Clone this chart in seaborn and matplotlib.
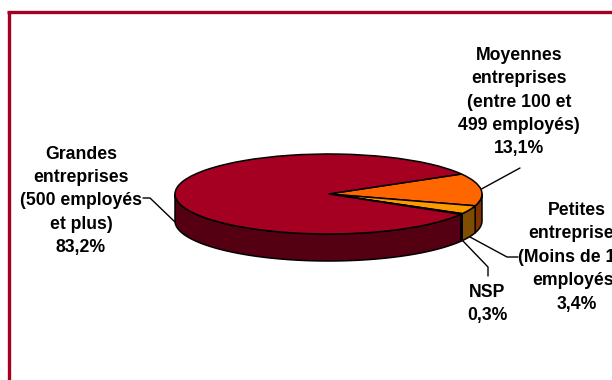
import numpy as np
import matplotlib
matplotlib.use("Agg")
import matplotlib.pyplot as plt
import seaborn as sns

# Company size breakdown, drawn clockwise from the start angle
categories = ["Moyennes entreprises", "Petites entreprises", "NSP", "Grandes entreprises"]
shares = [13.1, 3.4, 0.3, 83.2]
share_labels = ["13,1%", "3,4%", "0,3%", "83,2%"]
top_colors = ["#FF6600", "#FF9900", "#FFCC00", "#A50021"]
side_colors = ["#803300", "#804D00", "#806600", "#550012"]
frame_color = "#A50021"

W, H = 612, 380
CX, CY, RX, RY, DEPTH = 328.5, 194.0, 153.5, 40.0, 27.0
START = 30.0

sns.set_theme(style="white")
plt.rcParams["font.family"] = ["Liberation Sans", "DejaVu Sans"]

fig = plt.figure(figsize=(W / 100, H / 100), dpi=100, facecolor="white")
ax = fig.add_axes([0, 0, 1, 1])


def to_data(px, py):
    # Pixel position on the canvas to pie-unit coordinates
    return (px - CX) / RX, (CY - py) / RY


drop = DEPTH / RY
bounds = START - 3.6 * np.concatenate([[0], np.cumsum(shares)])

# Outer rim: only the part of each slice facing the viewer (below the horizontal)
for a0, a1, color in zip(bounds[:-1], bounds[1:], side_colors):
    a_hi, a_lo = min(a0, 0.0), max(a1, -180.0)
    if a_hi <= a_lo:
        continue
    t = np.radians(np.linspace(a_hi, a_lo, 80))
    xs = np.r_[np.cos(t), np.cos(t)[::-1]]
    ys = np.r_[np.sin(t), np.sin(t)[::-1] - drop]
    ax.fill(xs, ys, facecolor=color, edgecolor="black", lw=1.1, joinstyle="round", zorder=1)

# Top surface
ax.pie(shares, colors=top_colors, startangle=START, counterclock=False, radius=1.0,
       center=(0, 0), wedgeprops=dict(edgecolor="black", linewidth=1.1), frame=True)
ax.set_aspect("auto")
ax.set_xlim(to_data(0, 0)[0], to_data(W, 0)[0])
ax.set_ylim(to_data(0, H)[1], to_data(0, 0)[1])
ax.set_xticks([])
ax.set_yticks([])
for spine in ax.spines.values():
    spine.set_visible(False)

# Leader lines
leaders = [
    [(481.5, 189), (520, 168)],
    [(175, 222), (150, 198), (143, 198)],
    [(470, 237), (507, 257), (518, 257)],
    [(463, 241), (488, 267), (488, 276)],
]
for path in leaders:
    pts = np.array([to_data(*p) for p in path])
    ax.plot(pts[:, 0], pts[:, 1], color="black", lw=1.0, zorder=5)

# Data labels, one line at a time
label_blocks = [
    ([519] * 5, [55.5, 78.5, 102.5, 125.5, 148.5], ["Moyennes", "entreprises", "(entre 100 et", "499 employés)", share_labels[0]]),
    ([577, 576, 572, 576, 577], [210.5, 233.5, 257.5, 280.5, 304.5], ["Petites", "entreprises", "(Moins de 10", "employés)", share_labels[1]]),
    ([487] * 2, [292.5, 315.5], ["NSP", share_labels[2]]),
    ([81] * 5, [154.5, 177.5, 200.5, 224.5, 247.5], ["Grandes", "entreprises", "(500 employés", "et plus)", share_labels[3]]),
]
for columns, rows, lines in label_blocks:
    for px, py, line in zip(columns, rows, lines):
        x, y = to_data(px, py)
        ax.text(x, y, line, ha="center", va="center", fontsize=12.7, fontweight="bold",
                color="black", zorder=6)

# Frame along the top and left of the canvas
x0, y0 = to_data(8.5, 11.5)
x1, y1 = to_data(W + 5, H + 5)
ax.plot([x0, x0], [y1, y0], color=frame_color, lw=2.4, solid_capstyle="butt", zorder=7)
ax.plot([x0 - 1.6 / RX, x1], [y0, y0], color=frame_color, lw=2.4, solid_capstyle="butt", zorder=7)

fig.savefig("out.png", dpi=100, facecolor="white")
